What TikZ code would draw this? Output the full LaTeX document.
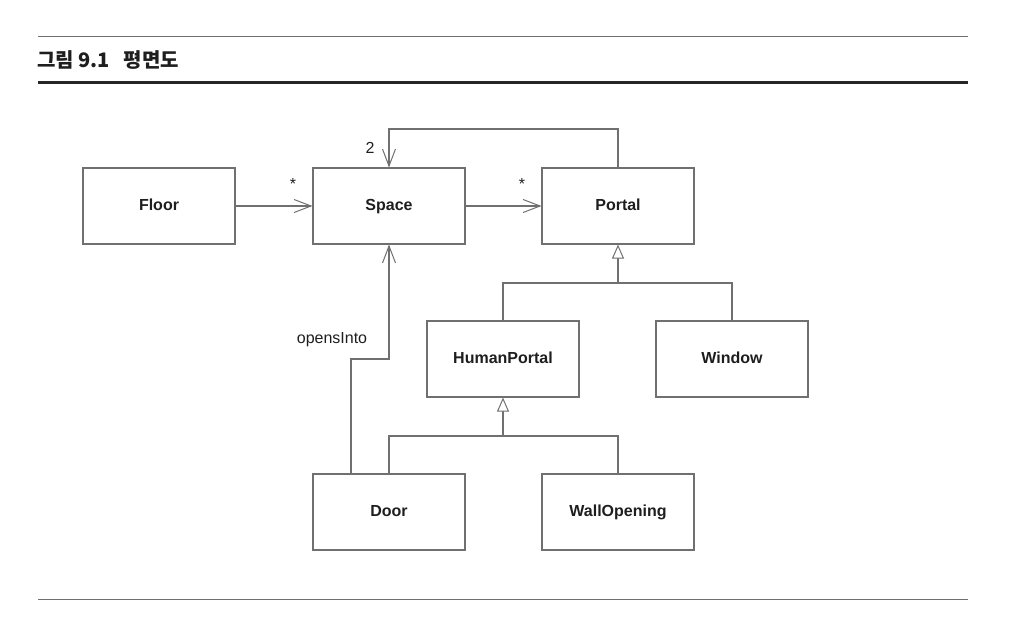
\documentclass[tikz,border=0pt]{standalone}
\usepackage{fontspec}
\setmainfont{Liberation Sans}
\newfontfamily\krfont{Noto Sans CJK KR}
\usetikzlibrary{arrows.meta}
\definecolor{ln}{HTML}{707070}
\definecolor{tx}{HTML}{1E1E1E}
\begin{document}
\begin{tikzpicture}[x=1pt,y=-1pt,
  cls/.style={draw=ln,line width=1.1pt,minimum width=152pt,minimum height=76pt,inner sep=0pt,
    text height=12pt,text depth=4pt,
    font=\fontsize{16}{19}\selectfont\bfseries,text=tx},
  conn/.style={draw=ln,line width=1.1pt},
  assoc/.style={conn,-{Straight Barb[length=17pt,width=13pt,line width=1pt]}},
  gen/.style={conn,-{Triangle[open,length=14pt,width=12pt,fill=white,line width=1pt]}},
  lbl/.style={font=\fontsize{16}{19}\selectfont,text=tx,inner sep=0pt},
  rule/.style={draw=ln,line width=1pt}]
\useasboundingbox (0,0) rectangle (1036,630);
% title rules
\coordinate (r1a) at (38,36); \coordinate (r1b) at (968,36);
\coordinate (r2a) at (38,82); \coordinate (r2b) at (968,82);
\coordinate (r3a) at (38,599); \coordinate (r3b) at (968,599);
\draw[rule] (r1a) -- (r1b);
\draw[draw=black!85,line width=3pt] (r2a) -- (r2b);
\draw[rule] (r3a) -- (r3b);
\node[anchor=west,inner sep=0pt,text=tx,font=\krfont\bfseries\fontsize{20}{24}\selectfont] (title) at (37,60) {그림 9.1\hspace{14pt}평면도};
% classes
\node[cls] (floor) at (159,206) {Floor};
\node[cls] (space) at (389,206) {Space};
\node[cls] (portal) at (618,206) {Portal};
\node[cls] (human) at (503,359) {HumanPortal};
\node[cls] (window) at (732,359) {Window};
\node[cls] (door) at (389,512) {Door};
\node[cls] (wall) at (618,512) {WallOpening};
% associations
\draw[assoc] (floor.east) -- (space.west);
\draw[assoc] (space.east) -- (portal.west);
\node[lbl] (m1) at (293,184) {*};
\node[lbl] (m2) at (522,184) {*};
\coordinate (pt) at (618,129);
\coordinate (st) at (389,129);
\draw[assoc] (portal.north) -- (pt) -- (st) -- (space.north);
\node[lbl] (m3) at (370,148) {2};
\coordinate (d1) at (351,359);
\coordinate (d2) at (389,359);
\draw[assoc] ([xshift=-38pt]door.north) -- (d1) -- (d2) -- (space.south);
\node[lbl] (oi) at (332,340) {opensInto};
% generalizations
\coordinate (g1) at (618,283);
\coordinate (g1l) at (503,283);
\coordinate (g1r) at (732,283);
\draw[gen] (g1) -- (portal.south);
\draw[conn] (human.north) -- (g1l) -- (g1r) -- (window.north);
\coordinate (g2) at (503,436);
\coordinate (g2l) at (389,436);
\coordinate (g2r) at (618,436);
\draw[gen] (g2) -- (human.south);
\draw[conn] (door.north) -- (g2l) -- (g2r) -- (wall.north);
\end{tikzpicture}
\end{document}
